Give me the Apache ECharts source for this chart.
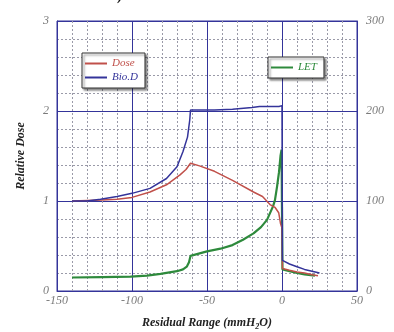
<!DOCTYPE html>
<html>
<head>
<meta charset="utf-8">
<script src="https://cdn.jsdelivr.net/npm/echarts@6/dist/echarts.min.js"></script>
<style>html,body{margin:0;padding:0;background:#fff;}#c{width:394px;height:332px;}</style>
</head>
<body>
<div id="c"></div>
<script>
// Relative dose curves (left axis)
const doseX = [-140, -120, -110, -100, -88, -77, -68, -64, -61, -55, -45, -33, -19, -13, -8, -4.7, -2.2, -1, 0, 0.3, 5, 10, 15, 20, 24];
const doseY = [1.0, 1.01, 1.02, 1.04, 1.10, 1.18, 1.29, 1.35, 1.42, 1.39, 1.33, 1.23, 1.10, 1.05, 0.96, 0.93, 0.87, 0.75, 0.7, 0.25, 0.23, 0.21, 0.2, 0.18, 0.17];
const bioX = [-140, -130, -121, -110, -100, -88, -77, -70, -66, -63, -61.5, -61, -45, -33, -20, -15, -2, 0, 0.3, 5, 10, 15, 20, 25];
const bioY = [1.0, 1.0, 1.02, 1.05, 1.085, 1.14, 1.25, 1.38, 1.55, 1.71, 1.9, 2.01, 2.01, 2.02, 2.04, 2.05, 2.05, 2.06, 0.34, 0.3, 0.27, 0.24, 0.22, 0.2];
// LET curve (right axis)
const letX = [-140, -120, -101, -90, -81, -70, -66, -63.5, -62, -61, -60, -50, -41, -33, -26, -19, -14, -10, -6, -4.7, -3.3, -2, -1, -0.3, 0.3, 5, 10, 15, 22];
const letY = [15, 15.5, 16, 17, 19, 22, 24, 27, 32, 39, 41, 44, 47, 51, 57, 64, 71, 79, 94, 101, 116, 132, 150, 157, 24, 22, 20, 18.5, 17];
// Tick settings
const xTicks = {min: -150, max: 50, step: 50};
const yTicks = {min: 0, max: 3, step: 1};
const y2Ticks = {min: 0, max: 300, step: 100};

const zip = (a, b) => a.map((v, i) => [v, b[i]]);
const BLUE = '#34349a', RED = '#c0504a', GREEN = '#2e8a3c';
const lbl = {fontFamily: 'Liberation Serif', fontStyle: 'italic', color: '#7a7a7a', fontSize: 12};
const nameStyle = {fontFamily: 'Liberation Serif', fontStyle: 'italic', fontWeight: 'bold', color: '#222', fontSize: 12};
const minor = {show: true, lineStyle: {color: '#9a9aa8', width: 1, type: [2, 2]}};
const major = {show: true, lineStyle: {color: BLUE, width: 1}};
const axLine = {show: true, onZero: false, lineStyle: {color: BLUE}};
const legendBox = {
  orient: 'vertical', backgroundColor: '#fff', borderColor: '#333', borderWidth: 1,
  shadowColor: 'rgba(0,0,0,0.45)', shadowBlur: 2, shadowOffsetX: 2, shadowOffsetY: 2,
  icon: 'rect', itemWidth: 22, itemHeight: 2, itemGap: 3, padding: [5, 7, 5, 3],
  textStyle: {fontFamily: 'Liberation Serif', fontStyle: 'italic', fontSize: 11}
};

const chart = echarts.init(document.getElementById('c'), null, {renderer: 'canvas'});
chart.setOption({
  animation: false,
  backgroundColor: '#fff',
  grid: {left: 57, right: 37, top: 21, bottom: 41, show: true, borderColor: BLUE, borderWidth: 1,
         containLabel: false, outerBoundsMode: 'none'},
  graphic: [{type: 'text', left: 110, top: -11, style: {text: 'a)', font: 'bold 14px Liberation Serif', fill: '#111'}}],
  legend: [
    Object.assign({}, legendBox, {left: 82, top: 53, data: [
      {name: 'Dose', textStyle: {color: RED}},
      {name: 'Bio.D', textStyle: {color: BLUE}}]}),
    Object.assign({}, legendBox, {left: 268, top: 57, data: [
      {name: 'LET', textStyle: {color: GREEN}}]})
  ],
  xAxis: {
    type: 'value', min: xTicks.min, max: xTicks.max, interval: xTicks.step,
    name: '{a|Residual Range (mmH}{s|2}{a|O)}', nameLocation: 'middle', nameGap: 24,
    nameTextStyle: {rich: {a: nameStyle, s: Object.assign({}, nameStyle, {fontSize: 8, verticalAlign: 'bottom', padding: [8, 0, 0, 0]})}},
    axisLine: axLine, axisTick: {show: false},
    axisLabel: Object.assign({margin: 4}, lbl),
    splitLine: major, minorTick: {show: false, splitNumber: 5}, minorSplitLine: minor
  },
  yAxis: [{
    type: 'value', min: yTicks.min, max: yTicks.max, interval: yTicks.step,
    name: 'Relative Dose', nameLocation: 'middle', nameGap: 30, nameTextStyle: nameStyle,
    axisLine: axLine, axisTick: {show: false},
    axisLabel: Object.assign({margin: 8}, lbl),
    splitLine: major, minorTick: {show: false, splitNumber: 5}, minorSplitLine: minor
  }, {
    type: 'value', min: y2Ticks.min, max: y2Ticks.max, interval: y2Ticks.step, position: 'right',
    name: 'LET (keV/μm)', nameLocation: 'middle', nameGap: 48, nameRotate: 90,
    nameTextStyle: {fontFamily: 'Liberation Serif', fontStyle: 'italic', fontWeight: 'bold', color: '#999', fontSize: 12},
    axisLine: axLine, axisTick: {show: false},
    axisLabel: Object.assign({margin: 9}, lbl),
    splitLine: {show: false}
  }],
  series: [
    {name: 'Dose', type: 'line', data: zip(doseX, doseY), showSymbol: false, color: RED, lineStyle: {width: 1.5}, z: 3},
    {name: 'Bio.D', type: 'line', data: zip(bioX, bioY), showSymbol: false, color: BLUE, lineStyle: {width: 1.5}, z: 4},
    {name: 'LET', type: 'line', yAxisIndex: 1, data: zip(letX, letY), showSymbol: false, color: GREEN, lineStyle: {width: 2.2}, z: 2}
  ]
});
</script>
</body>
</html>
